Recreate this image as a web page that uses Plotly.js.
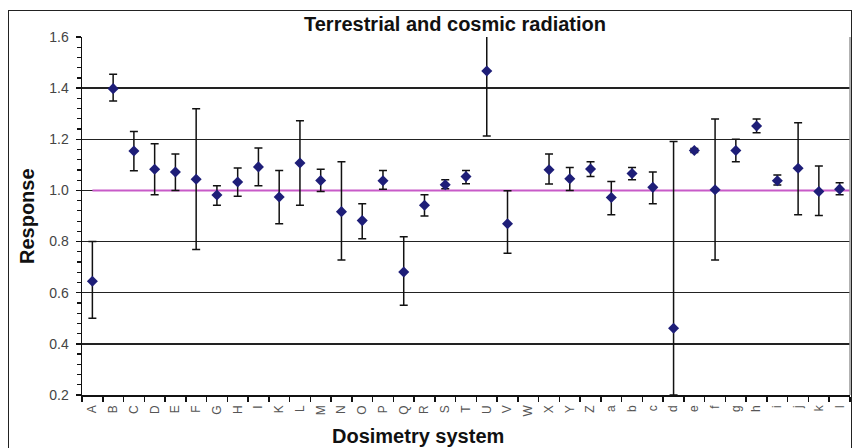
<!DOCTYPE html>
<html>
<head>
<meta charset="utf-8">
<script src="https://cdn.plot.ly/plotly-3.0.1.min.js"></script>
<style>
  html, body { margin: 0; padding: 0; background: #fff; }
  #wrap { position: relative; width: 853px; height: 448px; }
  #chart { width: 853px; height: 448px; }
  #frame { position: absolute; left: 8px; top: 10px; width: 842px; height: 445px;
           border: 1.5px solid #222; pointer-events: none; }
</style>
</head>
<body>
<div id="wrap">
  <div id="chart"></div>
  <div id="frame"></div>
</div>
<script>
const categories = ['A','B','C','D','E','F','G','H','I','K','L','M','N','O','P','Q','R','S','T','U','V','W','X','Y','Z',
                    'a','b','c','d','e','f','g','h','i','j','k','l'];
const response = [0.645,1.398,1.154,1.083,1.072,1.044,0.982,1.033,1.092,0.974,1.107,1.039,0.917,0.882,1.038,0.681,0.942,1.022,1.054,1.467,0.870,null,1.081,1.046,1.084,
                  0.972,1.066,1.012,0.461,1.156,1.003,1.156,1.252,1.038,1.087,0.996,1.005];
const upperLimit = [0.800,1.454,1.230,1.183,1.142,1.319,1.018,1.088,1.166,1.078,1.272,1.083,1.112,0.948,1.078,0.819,0.983,1.042,1.078,1.645,0.999,null,1.142,1.090,1.112,
                    1.035,1.090,1.072,1.191,1.164,1.279,1.200,1.279,1.060,1.265,1.096,1.030];
const lowerLimit = [0.500,1.350,1.077,0.983,1.000,0.769,0.942,0.977,1.018,0.870,0.942,0.996,0.728,0.811,1.005,0.551,0.900,1.007,1.026,1.213,0.754,null,1.025,1.000,1.054,
                    0.905,1.042,0.948,0.200,1.148,0.728,1.112,1.226,1.021,0.905,0.902,0.983];
const referenceValue = 1.0;

const errPlus = response.map((v, i) => v == null ? null : upperLimit[i] - v);
const errMinus = response.map((v, i) => v == null ? null : v - lowerLimit[i]);

const font = 'Liberation Sans, Arial, sans-serif';

const traces = [{
  type: 'scatter',
  mode: 'markers',
  x: categories,
  y: response,
  cliponaxis: false,
  marker: { symbol: 'diamond', size: 8.5, color: '#1e1e78' },
  error_y: {
    type: 'data', symmetric: false,
    array: errPlus, arrayminus: errMinus,
    color: '#111', thickness: 1.5, width: 4
  },
  hoverinfo: 'x+y'
}];

const layout = {
  width: 853, height: 448,
  margin: { l: 82, r: 3, t: 37, b: 53, pad: 0 },
  paper_bgcolor: '#fff', plot_bgcolor: '#fff',
  showlegend: false,
  font: { family: font, color: '#222' },
  title: {
    text: 'Terrestrial and cosmic radiation',
    font: { family: font, size: 20, weight: 700, color: '#111' },
    xref: 'container', x: 455 / 853, xanchor: 'center',
    yref: 'container', y: 1 - 24 / 448, yanchor: 'middle'
  },
  xaxis: {
    type: 'category',
    categoryorder: 'array', categoryarray: categories,
    range: [-0.5, categories.length - 0.5],
    tickson: 'boundaries',
    ticks: 'outside', ticklen: 5, tickwidth: 1.5, tickcolor: '#111',
    tickangle: -90, ticklabelstandoff: 4,
    tickfont: { family: font, size: 12, color: '#555' },
    showline: true, linecolor: '#111', linewidth: 1.5,
    showgrid: false, zeroline: false, fixedrange: true
  },
  yaxis: {
    range: [0.2, 1.6],
    dtick: 0.2, tick0: 0.2, tickformat: '.1f',
    ticks: 'outside', ticklen: 5, tickwidth: 1.5, tickcolor: '#111',
    ticklabelstandoff: 4,
    tickfont: { family: font, size: 14, color: '#444' },
    showline: true, linecolor: '#111', linewidth: 1.5,
    showgrid: true, gridcolor: '#222', gridwidth: 1.5,
    minor: { dtick: 0.04, ticks: 'outside', ticklen: 4, tickwidth: 1.2, tickcolor: '#111', showgrid: false },
    zeroline: false, fixedrange: true
  },
  shapes: [
    { type: 'line', xref: 'x', yref: 'y', x0: 0, x1: categories.length - 0.5, y0: referenceValue, y1: referenceValue,
      line: { color: '#c85ac8', width: 2 }, layer: 'between' },
    { type: 'line', xref: 'paper', yref: 'paper', x0: 1, x1: 1, y0: 0, y1: 1,
      line: { color: '#999', width: 1.5 } }
  ],
  annotations: [
    { text: 'Dosimetry system', xref: 'paper', yref: 'paper',
      x: (418 - 82) / 768, y: -(436 - 395) / 358, xanchor: 'center', yanchor: 'middle',
      showarrow: false, font: { family: font, size: 20, weight: 700, color: '#111' } },
    { text: 'Response', xref: 'paper', yref: 'paper',
      x: (27 - 82) / 768, y: 0.5, xanchor: 'center', yanchor: 'middle', textangle: -90,
      showarrow: false, font: { family: font, size: 20, weight: 700, color: '#111' } }
  ]
};

Plotly.newPlot('chart', traces, layout, { displayModeBar: false, staticPlot: true });
</script>
</body>
</html>
